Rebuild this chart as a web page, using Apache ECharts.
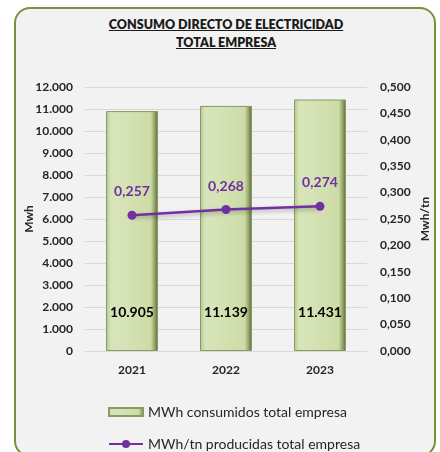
<!DOCTYPE html>
<html>
<head>
<meta charset="utf-8">
<script src="https://cdn.jsdelivr.net/npm/echarts@6/dist/echarts.min.js"></script>
<style>
  body { margin: 0; background: #fff; }
  #wrap { position: relative; width: 440px; height: 452px; overflow: hidden; }
  #frame {
    position: absolute; left: 14px; top: 7px; width: 418px; height: 446px;
    border: 2px solid #76923c; border-radius: 16px; background: #f2f2f2;
  }
  #title {
    position: absolute; left: 0; top: 16px; width: 452px; text-align: center;
    font-family: Lato, 'Open Sans', sans-serif; font-weight: 800; font-size: 12.5px;
    line-height: 18px; color: #1a1a1a; text-decoration: underline;
  }
  #chart { position: absolute; left: 0; top: 0; width: 440px; height: 452px; }
</style>
</head>
<body>
<div id="wrap">
  <div id="frame"></div>
  <div id="title">CONSUMO DIRECTO DE ELECTRICIDAD<br>TOTAL EMPRESA</div>
  <div id="chart"></div>
</div>
<script>
const years = ['2021', '2022', '2023']
const consumo = [10905, 11139, 11431] // MWh consumidos total empresa
const ratio = [0.257, 0.268, 0.274] // MWh/tn producidas total empresa
const seriesNames = ['MWh consumidos total empresa', 'MWh/tn producidas total empresa']

const font = 'Lato, "Open Sans", sans-serif'
const thousands = v => String(Math.round(v)).replace(/\B(?=(\d{3})+(?!\d))/g, '.')
const comma3 = v => v.toFixed(3).replace('.', ',')

const legendText = { fontFamily: font, fontSize: 14, color: '#262626' }

const chart = echarts.init(document.getElementById('chart'), null, { renderer: 'canvas' })
chart.setOption({
  backgroundColor: 'transparent',
  textStyle: { fontFamily: font },
  grid: { left: 85, right: 73, top: 87, bottom: 101 },
  // two legends, one per row, like the stacked legend of the original
  legend: [{
    left: 103,
    top: 400,
    itemWidth: 34,
    itemHeight: 8,
    textStyle: legendText,
    data: [{ name: seriesNames[0], icon: 'rect' }]
  }, {
    left: 103,
    top: 432,
    itemWidth: 34,
    itemHeight: 10,
    textStyle: legendText,
    data: [{ name: seriesNames[1] }]
  }],
  xAxis: {
    type: 'category',
    data: years,
    axisLine: { show: true, lineStyle: { color: '#d9d9d9' } },
    axisTick: { show: false },
    axisLabel: { margin: 13, fontWeight: 'bold', fontSize: 12, color: '#262626', fontFamily: font }
  },
  yAxis: [{
    type: 'value',
    min: 0,
    max: 12000,
    interval: 1000,
    name: 'Mwh',
    nameLocation: 'middle',
    nameRotate: 90,
    nameGap: 50,
    nameMoveOverlap: false,
    nameTextStyle: { fontWeight: 'bold', fontSize: 12, color: '#262626', fontFamily: font },
    axisLine: { show: false },
    axisTick: { show: false },
    axisLabel: { margin: 12, fontWeight: 'bold', fontSize: 12, color: '#262626', fontFamily: font, formatter: thousands },
    splitLine: { lineStyle: { color: '#d9d9d9', width: 1 } }
  }, {
    type: 'value',
    min: 0,
    max: 0.5,
    interval: 0.05,
    name: 'Mwh/tn',
    nameLocation: 'middle',
    nameRotate: 90,
    nameGap: 52,
    nameMoveOverlap: false,
    nameTextStyle: { fontWeight: 'bold', fontSize: 12, color: '#262626', fontFamily: font },
    axisLine: { show: false },
    axisTick: { show: false },
    axisLabel: { margin: 13, fontWeight: 'bold', fontSize: 12, color: '#262626', fontFamily: font, formatter: comma3 },
    splitLine: { show: false }
  }],
  series: [{
    name: seriesNames[0],
    type: 'bar',
    yAxisIndex: 0,
    barWidth: 52,
    data: consumo,
    itemStyle: {
      color: new echarts.graphic.LinearGradient(0, 0, 1, 0, [
        { offset: 0, color: '#b3c78a' },
        { offset: 0.1, color: '#d8e5bc' },
        { offset: 0.5, color: '#d3e1b1' },
        { offset: 0.86, color: '#ccdba6' },
        { offset: 0.93, color: '#98a96f' },
        { offset: 1, color: '#58653a' }
      ]),
      borderColor: '#8a9a60',
      borderWidth: 1
    },
    label: {
      show: true,
      position: 'insideBottom',
      distance: 32,
      fontWeight: 'bold',
      fontSize: 14,
      color: '#000',
      fontFamily: font,
      formatter: p => thousands(p.value)
    }
  }, {
    name: seriesNames[1],
    type: 'line',
    yAxisIndex: 1,
    data: ratio,
    symbol: 'circle',
    symbolSize: 9,
    color: '#7030a0',
    lineStyle: { width: 2.5, color: '#7030a0', shadowBlur: 4, shadowColor: 'rgba(0,0,0,0.3)', shadowOffsetY: 2 },
    itemStyle: { color: '#7030a0' },
    label: {
      show: true,
      position: 'top',
      distance: 12,
      fontWeight: 'bold',
      fontSize: 14,
      color: '#7030a0',
      fontFamily: font,
      formatter: p => comma3(p.value)
    }
  }]
})
</script>
</body>
</html>
